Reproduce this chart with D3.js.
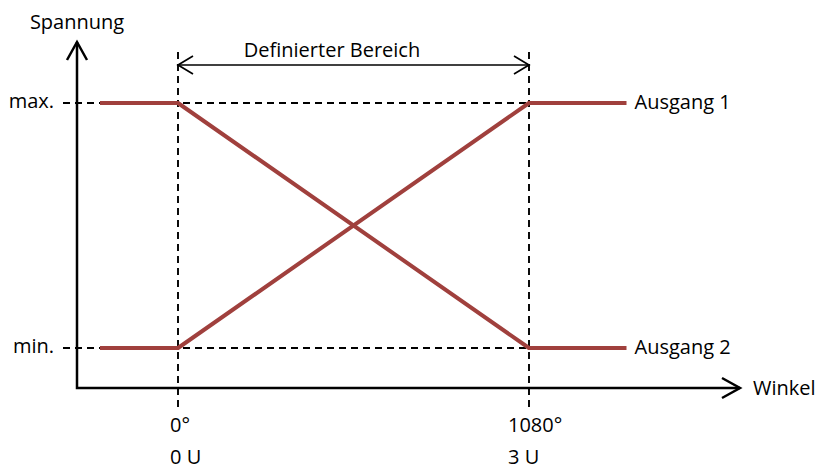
<!DOCTYPE html>
<html>
<head>
<meta charset="utf-8">
<script src="https://cdn.jsdelivr.net/npm/d3@7"></script>
<style>
  html, body { margin: 0; padding: 0; background: #fff; }
  svg text { font-family: "Open Sans", "DejaVu Sans", sans-serif; font-size: 20px; fill: #000; }
</style>
</head>
<body>
<svg id="chart" width="820" height="471"></svg>
<script>
// ---- data ----
const xTickValues = [0, 1080];
const xTickLabels1 = ["0°", "1080°"];
const xTickLabels2 = ["0 U", "3 U"];
const yTickValues = [0, 1];
const yTickLabels = ["min.", "max."];
const seriesNames = ["Ausgang 1", "Ausgang 2"];
const ausgang1X = [-240, 0, 1080, 1380];
const ausgang1Y = [0, 0, 1, 1];
const ausgang2X = [-240, 0, 1080, 1380];
const ausgang2Y = [1, 1, 0, 0];
const rangeLabel = "Definierter Bereich";
const xAxisTitle = "Winkel";
const yAxisTitle = "Spannung";

// ---- layout ----
const svg = d3.select("#chart");
const x = d3.scaleLinear().domain([0, 1080]).range([178, 529]);
const y = d3.scaleLinear().domain([0, 1]).range([348, 103]);
const xOrigin = x.invert(77), xEnd = x.invert(740);
const yOrigin = y.invert(388), yEnd = y.invert(42);
const lineColor = "#a0403d";

// dashed guides
const dash = "7,5";
yTickValues.forEach(v => {
  svg.append("line")
    .attr("x1", 63).attr("x2", x(1080))
    .attr("y1", y(v)).attr("y2", y(v))
    .attr("stroke", "#000").attr("stroke-width", 1.9).attr("stroke-dasharray", dash);
});
xTickValues.forEach(v => {
  svg.append("line")
    .attr("x1", x(v)).attr("x2", x(v))
    .attr("y1", 52).attr("y2", 408)
    .attr("stroke", "#000").attr("stroke-width", 1.9).attr("stroke-dasharray", dash);
});

// axes
const ax = svg.append("g").attr("fill", "none").attr("stroke", "#000").attr("stroke-width", 2.5);
ax.append("path").attr("d", d3.line()([[x(xOrigin), y(yEnd)], [x(xOrigin), y(yOrigin)], [x(xEnd), y(yOrigin)]]));
ax.append("path").attr("stroke-linejoin", "miter")
  .attr("d", d3.line()([[x(xOrigin) - 10, y(yEnd) + 18], [x(xOrigin), y(yEnd)], [x(xOrigin) + 10, y(yEnd) + 18]]));
ax.append("path").attr("stroke-linejoin", "miter")
  .attr("d", d3.line()([[x(xEnd) - 18, y(yOrigin) - 10], [x(xEnd), y(yOrigin)], [x(xEnd) - 18, y(yOrigin) + 10]]));

// range double arrow
const ra = svg.append("g").attr("fill", "none").attr("stroke", "#000").attr("stroke-width", 1.7);
const ry = 65;
ra.append("line").attr("x1", x(0)).attr("x2", x(1080)).attr("y1", ry).attr("y2", ry);
ra.append("path").attr("d", d3.line()([[x(0) + 15, ry - 9], [x(0), ry], [x(0) + 15, ry + 9]]));
ra.append("path").attr("d", d3.line()([[x(1080) - 15, ry - 9], [x(1080), ry], [x(1080) - 15, ry + 9]]));
svg.append("text").attr("x", 332).attr("y", 57).attr("text-anchor", "middle").text(rangeLabel);

// series lines
const line = d3.line().x(d => x(d[0])).y(d => y(d[1]));
const s1 = ausgang1X.map((v, i) => [v, ausgang1Y[i]]);
const s2 = ausgang2X.map((v, i) => [v, ausgang2Y[i]]);
[s1, s2].forEach(s => {
  svg.append("path").datum(s).attr("d", line)
    .attr("fill", "none").attr("stroke", lineColor).attr("stroke-width", 4)
    .attr("stroke-linejoin", "round");
});
// series labels
[s1, s2].forEach((s, i) => {
  const last = s[s.length - 1];
  svg.append("text").attr("x", x(last[0]) + 8).attr("y", y(last[1]) + 6).text(seriesNames[i]);
});

// y tick labels
yTickValues.forEach((v, i) => {
  svg.append("text").attr("x", 54).attr("y", y(v) + 5).attr("text-anchor", "end").text(yTickLabels[i]);
});

// x tick labels (two rows, second row left aligned with first)
xTickValues.forEach((v, i) => {
  const left = i === 0 ? x(v) - 8 : x(v) - 21;
  svg.append("text").attr("x", left).attr("y", 432).text(xTickLabels1[i]);
  svg.append("text").attr("x", left).attr("y", 464).text(xTickLabels2[i]);
});

// axis titles
svg.append("text").attr("x", x(xOrigin)).attr("y", 29).attr("text-anchor", "middle").text(yAxisTitle);
svg.append("text").attr("x", 753).attr("y", 395).text(xAxisTitle);
</script>
</body>
</html>
